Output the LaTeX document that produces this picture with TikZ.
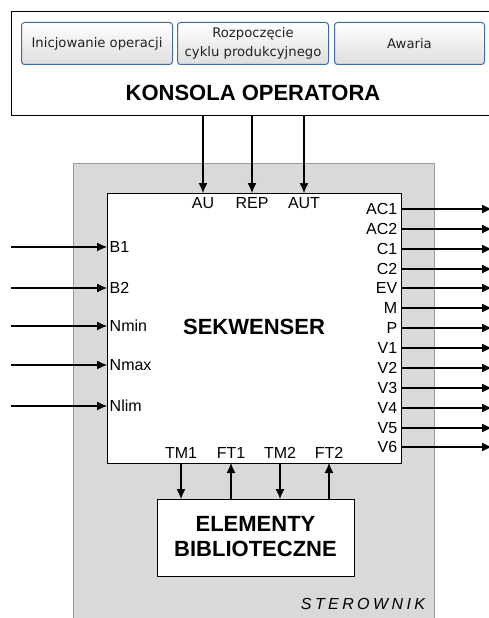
\documentclass[tikz,border=0pt]{standalone}
\usepackage{fontspec}
\setmainfont{Liberation Sans}
\newfontfamily\btnfont{DejaVu Sans}
\usetikzlibrary{arrows.meta,calc}
\definecolor{btnborder}{HTML}{3F6E9C}
\definecolor{panelgray}{HTML}{D9D9D9}
\definecolor{panelborder}{HTML}{9A9A9A}
\definecolor{btntext}{HTML}{222222}
\begin{document}
\begin{tikzpicture}[x=1pt,y=-1pt,
  arr/.style={line width=1.1pt,-{Latex[length=10pt,width=9pt]}},
  boxst/.style={draw,line width=1.4pt,fill=white,inner sep=0pt,anchor=north west},
  btn/.style={draw=btnborder,line width=1pt,rounded corners=3pt,top color=white,bottom color=black!13,
     anchor=north west,minimum width=151pt,minimum height=42pt,inner sep=0pt,
     font=\btnfont\fontsize{13.2}{19}\selectfont,text=btntext,align=center},
  big/.style={font=\bfseries\fontsize{22}{25}\selectfont,align=center,inner sep=0pt},
  sig/.style={font=\fontsize{16}{16}\selectfont,inner sep=3.5pt}
]
\useasboundingbox (0,0) rectangle (489,618);
\clip (0,0) rectangle (489,618);
% panel
\node[draw=panelborder,line width=1pt,fill=panelgray,anchor=north west,minimum width=361pt,minimum height=480pt,inner sep=0pt] (ster) at (73,163) {};
% console
\node[draw,line width=1.1pt,fill=white,anchor=north west,minimum width=520pt,minimum height=104pt,inner sep=0pt] (kons) at (11,11) {};
\node[btn] (b1) at (21,22) {Inicjowanie operacji};
\node[btn] (b2) at (177,22) {Rozpoczęcie\\cyklu produkcyjnego};
\node[btn,minimum width=150pt] (b3) at (334,22) {Awaria};
\node[big] (ktitle) at (253,93) {KONSOLA OPERATORA};
% sequencer
\node[boxst,minimum width=294pt,minimum height=270pt] (seq) at (107,193) {};
\node[big] (seqt) at (254,327) {SEKWENSER};
% library
\node[boxst,minimum width=197pt,minimum height=77pt] (elem) at (157,499) {};
\node[big] (elemt) at (255.5,537) {ELEMENTY\\BIBLIOTECZNE};
% sterownik label
\node[font=\itshape\fontsize{16}{16}\selectfont,inner sep=0pt] (stert) at (363,604) {S\kern3.4pt T\kern3.4pt E\kern3.4pt R\kern3.4pt O\kern3.4pt W\kern3.4pt N\kern3.4pt I\kern3.4pt K};
% top inputs
\foreach \nm/\x in {AU/203,REP/252,AUT/304}{
  \node[sig,anchor=north,inner ysep=4pt] (t\nm) at (\x,193) {\nm};
  \draw[arr] (kons.south -| t\nm.north) -- (t\nm.north);
}
% left inputs
\coordinate (lstart) at (11,0);
\foreach \nm/\y in {B1/247,B2/288,Nmin/326,Nmax/365,Nlim/406}{
  \node[sig,anchor=west,inner xsep=2.5pt] (l\nm) at (107,\y) {\nm};
  \draw[arr] (lstart |- l\nm.west) -- (l\nm.west);
}
% right outputs
\coordinate (rend) at (492,0);
\foreach \nm/\y in {AC1/209,AC2/229,C1/249,C2/269,EV/288,M/308,P/328,V1/348,V2/368,V3/388,V4/408,V5/428,V6/447}{
  \node[sig,anchor=east,inner xsep=3.5pt] (r\nm) at (401,\y) {\nm};
  \draw[arr] (r\nm.east) -- (r\nm.east -| rend);
}
% bottom
\foreach \nm/\x in {TM1/181,TM2/280}{
  \node[sig,anchor=south,inner ysep=4pt] (d\nm) at (\x,463) {\nm};
  \draw[arr] (d\nm.south) -- (d\nm.south |- elem.north);
}
\foreach \nm/\x in {FT1/231,FT2/329}{
  \node[sig,anchor=south,inner ysep=4pt] (d\nm) at (\x,463) {\nm};
  \draw[arr] (d\nm.south |- elem.north) -- (d\nm.south);
}
\end{tikzpicture}
\end{document}
